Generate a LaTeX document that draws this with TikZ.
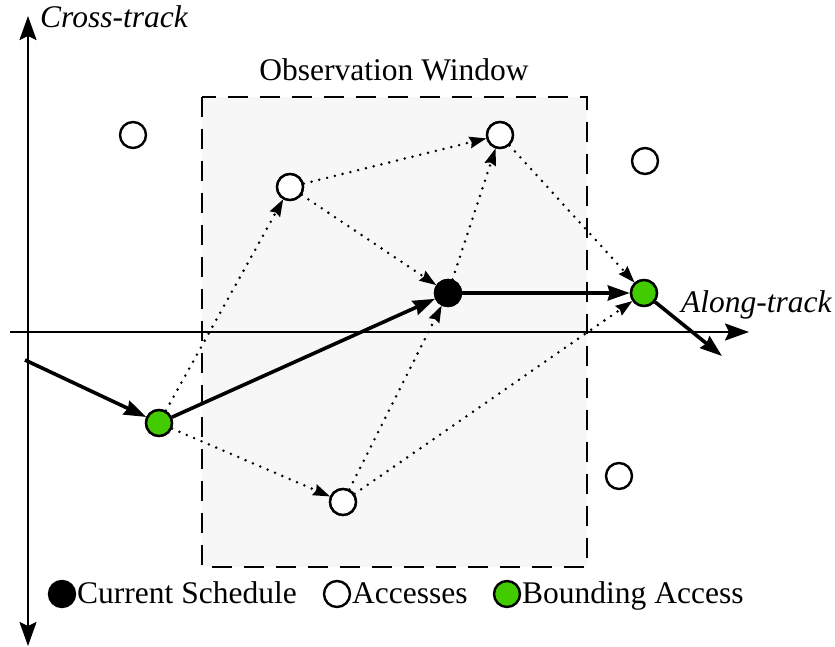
\documentclass[tikz,border=0pt]{standalone}
\usepackage{fontspec}
\setmainfont{Liberation Serif}
\usetikzlibrary{arrows.meta}
\definecolor{accgreen}{RGB}{66,204,0}
\definecolor{winfill}{RGB}{247,247,247}
\tikzset{
  lbl/.style={font=\fontsize{31.5}{36}\selectfont, inner sep=0pt},
  access/.style={circle, draw=black, line width=2.4pt, fill=white, minimum size=26pt, inner sep=0pt},
  bound/.style={access, fill=accgreen},
  current/.style={access, fill=black},
  axis/.style={line width=2.2pt, -{Stealth[length=24pt,width=17pt,inset=4pt]}},
  path/.style={line width=3.6pt, -{Stealth[length=22pt,width=15pt,inset=2pt]}},
  option/.style={line width=2.8pt, line cap=round, dash pattern=on 0pt off 8pt,
                 -{Stealth[length=17pt,width=12pt,inset=2pt,line cap=butt,line width=0pt]}},
  window/.style={draw=black, fill=winfill, line width=2.4pt, dash pattern=on 20pt off 12pt}
}
\begin{document}
\begin{tikzpicture}[x=1pt,y=-1pt]
\useasboundingbox (0,0) rectangle (835,647);

% observation window
\draw[window] (202,97) rectangle (587,567);
\node[lbl, anchor=base] (wintitle) at (394,81) {Observation Window};

% axes
\coordinate (xs) at (10,332);
\coordinate (xe) at (749,332);
\coordinate (yt) at (28,16);
\coordinate (yb) at (28,646);
\coordinate (ymid) at (28,332);
\draw[axis] (xs) -- (xe);
\draw[axis] (ymid) -- (yt);
\draw[axis] (ymid) -- (yb);
\node[lbl, anchor=base west, font=\fontsize{31.5}{36}\selectfont\itshape] (ylabel) at (40,28) {Cross-track};
\node[lbl, anchor=base west, font=\fontsize{31.5}{36}\selectfont\itshape] (xlabel) at (681,312) {Along-track};

% accesses
\node[access] (a1) at (133,135) {};
\node[access] (a2) at (290,187) {};
\node[access] (a3) at (500,135) {};
\node[access] (a4) at (645,161) {};
\node[access] (a5) at (343,502) {};
\node[access] (a6) at (619,476) {};
\node[current] (c) at (448,293) {};
\node[bound] (g1) at (159,423) {};
\node[bound] (g2) at (644,293) {};

\coordinate (pin) at (25,360);
\coordinate (pout) at (722,356);

% candidate transitions
\draw[option] (g1) -- (a2);
\draw[option] (a2) -- (a3);
\draw[option] (a2) -- (c);
\draw[option] (c) -- (a3);
\draw[option] (a3) -- (g2);
\draw[option] (g1) -- (a5);
\draw[option] (a5) -- (c);
\draw[option] (a5) -- (g2);

% current schedule
\draw[path] (pin) -- (g1);
\draw[path] (g1) -- (c);
\draw[path] (c) -- (g2);
\draw[path] (g2) -- (pout);

% redraw nodes on top of the lines
\node[access] at (a2) {};
\node[access] at (a3) {};
\node[access] at (a5) {};
\node[current] at (c) {};
\node[bound] at (g1) {};
\node[bound] at (g2) {};

% legend
\node[current] (k1) at (62,594) {};
\node[lbl, anchor=base west] (t1) at (77,603) {Current Schedule};
\node[access] (k2) at (337,594) {};
\node[lbl, anchor=base west] (t2) at (352,603) {Accesses};
\node[bound] (k3) at (507,594) {};
\node[lbl, anchor=base west] (t3) at (522,603) {Bounding Access};
\end{tikzpicture}
\end{document}
